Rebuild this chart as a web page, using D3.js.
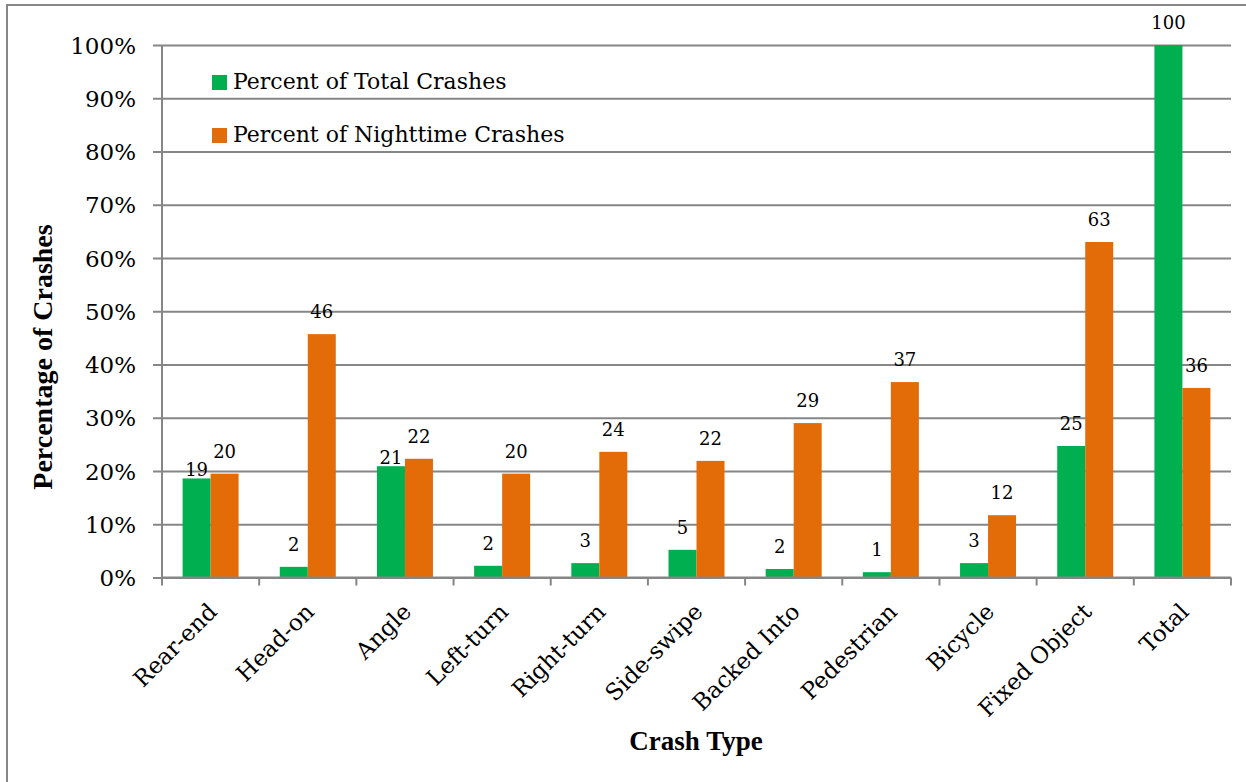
<!DOCTYPE html>
<html>
<head>
<meta charset="utf-8">
<script src="https://cdn.jsdelivr.net/npm/d3@7/dist/d3.min.js"></script>
<style>
  body { margin: 0; background: #fff; }
  text { font-family: "DejaVu Serif", serif; fill: #000; }
</style>
</head>
<body>
<div id="viz"></div>
<script>
// chart data
var crashTypes = ["Rear-end", "Head-on", "Angle", "Left-turn", "Right-turn", "Side-swipe",
                  "Backed Into", "Pedestrian", "Bicycle", "Fixed Object", "Total"];
var pctTotal = [18.6, 2.0, 20.9, 2.2, 2.7, 5.2, 1.6, 1.0, 2.7, 24.7, 100];
var pctNight = [19.5, 45.7, 22.3, 19.5, 23.6, 21.9, 29.0, 36.7, 11.7, 63.0, 35.6];
var seriesNames = ["Percent of Total Crashes", "Percent of Nighttime Crashes"];
var seriesColors = ["#00b050", "#e36c09"];
var yTicks = [0, 10, 20, 30, 40, 50, 60, 70, 80, 90, 100];

var W = 1246, H = 782;
var plotL = 162, plotR = 1231, plotT = 45, plotB = 577.5;
var gridColor = "#868686";
var titleFont = "'Liberation Serif', 'Times New Roman', serif";

var svg = d3.select("#viz").append("svg")
  .attr("width", W)
  .attr("height", H);

// outer chart frame (only left and top edges show in the picture)
svg.append("rect")
  .attr("x", 7).attr("y", 5)
  .attr("width", W + 20).attr("height", H + 20)
  .attr("fill", "none")
  .attr("stroke", gridColor)
  .attr("stroke-width", 2);

var x0 = d3.scaleBand().domain(crashTypes).range([plotL, plotR]).padding(0);
var barW = 28;
var x1 = d3.scaleBand().domain([0, 1]).range([-barW, barW]).padding(0);
var y = d3.scaleLinear().domain([0, 100]).range([plotB, plotT]);

// gridlines + y axis
var yAxis = d3.axisLeft(y)
  .tickValues(yTicks)
  .tickSize(-(plotR - plotL))
  .tickFormat(function (d) { return d + "%"; });

var gy = svg.append("g")
  .attr("transform", "translate(" + plotL + ",0)")
  .call(yAxis);
gy.select(".domain").remove();
gy.selectAll(".tick line")
  .attr("stroke", gridColor)
  .attr("stroke-width", 2)
  .attr("x1", -9);
gy.selectAll(".tick text")
  .attr("x", -26)
  .attr("dy", "0.35em")
  .attr("fill", "#000")
  .style("font-size", "23px")
  .style("font-family", "DejaVu Serif, serif");

// y axis line
svg.append("line")
  .attr("x1", plotL).attr("x2", plotL)
  .attr("y1", plotT).attr("y2", plotB)
  .attr("stroke", gridColor).attr("stroke-width", 2);

// bars
var groups = svg.selectAll(".cat")
  .data(crashTypes)
  .enter().append("g")
  .attr("class", "cat")
  .attr("transform", function (d) { return "translate(" + (x0(d) + x0.bandwidth() / 2) + ",0)"; });

[pctTotal, pctNight].forEach(function (vals, s) {
  groups.append("rect")
    .attr("x", x1(s))
    .attr("width", x1.bandwidth())
    .attr("y", function (d, i) { return y(vals[i]); })
    .attr("height", function (d, i) { return y(0) - y(vals[i]); })
    .attr("fill", seriesColors[s]);
});

// data labels; when the two values are close the green one sits lower
groups.each(function (d, i) {
  var g = d3.select(this);
  var close = Math.abs(pctTotal[i] - pctNight[i]) < 3;
  [pctTotal, pctNight].forEach(function (vals, s) {
    var off = (s === 0 && close) ? 2 : 16;
    g.append("text")
      .attr("x", x1(s) + x1.bandwidth() / 2)
      .attr("y", y(vals[i]) - off)
      .attr("text-anchor", "middle")
      .style("font-size", "18px")
      .text(Math.round(vals[i]));
  });
});

// x axis line and ticks
svg.append("line")
  .attr("x1", plotL).attr("x2", plotR)
  .attr("y1", plotB).attr("y2", plotB)
  .attr("stroke", gridColor).attr("stroke-width", 2);
svg.selectAll(".xtick")
  .data(crashTypes.concat(["__end"]))
  .enter().append("line")
  .attr("class", "xtick")
  .attr("x1", function (d) { return d === "__end" ? plotR : x0(d); })
  .attr("x2", function (d) { return d === "__end" ? plotR : x0(d); })
  .attr("y1", plotB).attr("y2", plotB + 8)
  .attr("stroke", gridColor).attr("stroke-width", 2);

// rotated category labels
svg.selectAll(".xlab")
  .data(crashTypes)
  .enter().append("text")
  .attr("class", "xlab")
  .attr("text-anchor", "end")
  .style("font-size", "23px")
  .attr("transform", function (d) {
    return "translate(" + (x0(d) + x0.bandwidth() / 2 + 2) + "," + (plotB + 30) + ") rotate(-45)";
  })
  .attr("dy", "0.35em")
  .text(function (d) { return d; });

// axis titles
svg.append("text")
  .attr("transform", "translate(52,357) rotate(-90)")
  .attr("text-anchor", "middle")
  .style("font-family", titleFont)
  .style("font-size", "28px")
  .style("font-weight", "bold")
  .text("Percentage of Crashes");

svg.append("text")
  .attr("x", 696).attr("y", 750)
  .attr("text-anchor", "middle")
  .style("font-family", titleFont)
  .style("font-size", "27px")
  .style("font-weight", "bold")
  .text("Crash Type");

// legend
var legend = svg.selectAll(".leg")
  .data(seriesNames)
  .enter().append("g")
  .attr("class", "leg")
  .attr("transform", function (d, i) { return "translate(212," + (75 + i * 53) + ")"; });
legend.append("rect")
  .attr("width", 15).attr("height", 15)
  .attr("fill", function (d, i) { return seriesColors[i]; });
legend.append("text")
  .attr("x", 21).attr("y", 14)
  .style("font-size", "22px")
  .text(function (d) { return d; });
</script>
</body>
</html>
